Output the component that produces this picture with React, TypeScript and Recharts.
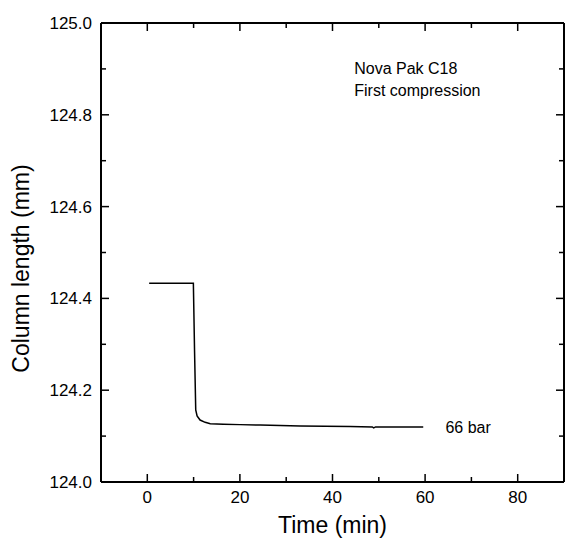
import React from "react";
import {
  LineChart,
  Line,
  XAxis,
  YAxis,
  ReferenceDot,
  Label,
} from "recharts";

// column length trace
const timeMin = [0.4, 9.95, 10.2, 10.46, 10.75, 11.4, 12.5, 13.6, 16.4, 20, 24.4, 33, 43.8, 48.6, 48.9, 49.3, 55, 59.6];
const lengthMm = [124.433, 124.433, 124.288, 124.157, 124.144, 124.135, 124.13, 124.127, 124.126, 124.125, 124.124, 124.122, 124.121, 124.12, 124.118, 124.12, 124.12, 124.12];

const xTicks = [0, 10, 20, 30, 40, 50, 60, 70, 80];
const xLabels = ["0", "", "20", "", "40", "", "60", "", "80"];
const yTicks = [124.0, 124.1, 124.2, 124.3, 124.4, 124.5, 124.6, 124.7, 124.8, 124.9, 125.0];
const yLabels = ["124.0", "", "124.2", "", "124.4", "", "124.6", "", "124.8", "", "125.0"];

const notes = [
  { x: 44.7, y: 124.889, text: "Nova Pak C18" },
  { x: 44.7, y: 124.84, text: "First compression" },
  { x: 64.4, y: 124.107, text: "66 bar" },
];

const data = timeMin.map((t, i) => ({ t, len: lengthMm[i] }));

const FONT = "'Liberation Sans', Arial, sans-serif";
const MAJOR = 8;
const MINOR = 5;
const AXIS = { stroke: "#000", strokeWidth: 2 };

const BottomTick = (props: any) => {
  const { x, y, index } = props;
  const label = xLabels[index];
  const len = label ? MAJOR : MINOR;
  return (
    <g>
      <line x1={x} x2={x} y1={y} y2={y - len} stroke="#000" strokeWidth={1.5} />
      {label && (
        <text x={x} y={y + 21} textAnchor="middle" fontSize={17} fontFamily={FONT} fill="#000">
          {label}
        </text>
      )}
    </g>
  );
};

const TopTick = (props: any) => {
  const { x, y, index } = props;
  const len = xLabels[index] ? MAJOR : MINOR;
  return <line x1={x} x2={x} y1={y} y2={y + len} stroke="#000" strokeWidth={1.5} />;
};

const LeftTick = (props: any) => {
  const { x, y, index } = props;
  const label = yLabels[index];
  const len = label ? MAJOR : MINOR;
  return (
    <g>
      <line x1={x} x2={x + len} y1={y} y2={y} stroke="#000" strokeWidth={1.5} />
      {label && (
        <text x={x - 9} y={y + 6} textAnchor="end" fontSize={17} fontFamily={FONT} fill="#000">
          {label}
        </text>
      )}
    </g>
  );
};

const RightTick = (props: any) => {
  const { x, y, index } = props;
  const len = yLabels[index] ? MAJOR : MINOR;
  return <line x1={x} x2={x - len} y1={y} y2={y} stroke="#000" strokeWidth={1.5} />;
};

const YTitle = (props: any) => {
  const { viewBox } = props;
  const cx = 21;
  const cy = viewBox.y + viewBox.height / 2 + 16;
  return (
    <text
      x={cx}
      y={cy}
      transform={`rotate(-90 ${cx} ${cy})`}
      textAnchor="middle"
      dominantBaseline="central"
      fontSize={23}
      fontFamily={FONT}
      fill="#000"
    >
      Column length (mm)
    </text>
  );
};

const XTitle = (props: any) => {
  const { viewBox } = props;
  return (
    <text
      x={viewBox.x + viewBox.width / 2}
      y={533}
      textAnchor="middle"
      fontSize={23}
      fontFamily={FONT}
      fill="#000"
    >
      Time (min)
    </text>
  );
};

const noteLabel = (text: string) => (props: any) => {
  const { viewBox } = props;
  return (
    <text x={viewBox.x} y={viewBox.y} fontSize={16} fontFamily={FONT} fill="#000">
      {text}
    </text>
  );
};

export default function App() {
  return (
    <div style={{ position: "absolute", left: 0, top: 0, background: "#fff" }}>
      <LineChart width={565} height={539} data={data} margin={{ top: 22, right: 0, bottom: 0, left: 0 }}>
        <XAxis
          dataKey="t"
          type="number"
          domain={[-10, 90]}
          allowDataOverflow
          ticks={xTicks}
          interval={0}
          height={57}
          tickSize={0}
          tickMargin={0}
          tickLine={false}
          tick={BottomTick}
          axisLine={AXIS}
        >
          <Label content={XTitle} />
        </XAxis>
        <XAxis
          xAxisId="top"
          orientation="top"
          dataKey="t"
          type="number"
          domain={[-10, 90]}
          allowDataOverflow
          ticks={xTicks}
          interval={0}
          height={1}
          tickSize={0}
          tickMargin={0}
          tickLine={false}
          tick={TopTick}
          axisLine={AXIS}
        />
        <YAxis
          type="number"
          domain={[124, 125]}
          allowDataOverflow
          ticks={yTicks}
          interval={0}
          width={101}
          tickSize={0}
          tickMargin={0}
          tickLine={false}
          tick={LeftTick}
          axisLine={AXIS}
        >
          <Label content={YTitle} />
        </YAxis>
        <YAxis
          yAxisId="right"
          orientation="right"
          type="number"
          domain={[124, 125]}
          allowDataOverflow
          ticks={yTicks}
          interval={0}
          width={1}
          tickSize={0}
          tickMargin={0}
          tickLine={false}
          tick={RightTick}
          axisLine={AXIS}
        />
        {/* invisible copy so the mirrored axes get a series */}
        <Line
          xAxisId="top"
          yAxisId="right"
          type="linear"
          dataKey="len"
          stroke="none"
          dot={false}
          activeDot={false}
          isAnimationActive={false}
        />
        <Line
          type="linear"
          dataKey="len"
          stroke="#000"
          strokeWidth={1.5}
          dot={false}
          isAnimationActive={false}
        />
        {notes.map((n) => (
          <ReferenceDot
            key={n.text}
            x={n.x}
            y={n.y}
            r={0}
            fill="none"
            stroke="none"
            label={noteLabel(n.text)}
          />
        ))}
      </LineChart>
    </div>
  );
}
